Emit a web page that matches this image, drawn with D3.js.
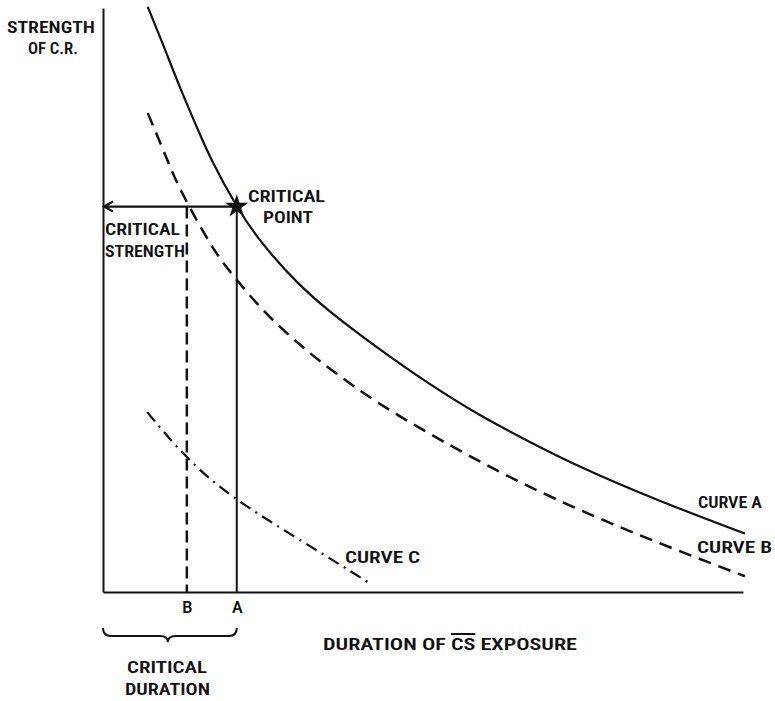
<!DOCTYPE html>
<html>
<head>
<meta charset="utf-8">
<script src="https://cdn.jsdelivr.net/npm/d3@7"></script>
<style>
body { margin:0; background:#fff; }
text { font-family: "Liberation Sans Narrow", "Roboto Condensed", Roboto, "DejaVu Sans Condensed", sans-serif; font-weight: 600; fill:#111; }
</style>
</head>
<body>
<svg id="chart" width="775" height="701"></svg>
<script>
// curve points: [duration, strength] in 0..100 units
var curveA = [[7.0,100.2],[9.4,93.7],[12.0,86.5],[14.7,79.5],[17.2,73.5],[20.9,66.1],[25.0,59.6],[30.3,53.1],[35.5,48.0],[40.6,43.7],[45.9,39.5],[51.1,35.6],[58.9,30.3],[66.7,25.7],[74.5,21.5],[86.6,15.8],[100.3,10.0]];
var curveB = [[7.0,82.0],[9.7,74.9],[12.3,68.5],[16.7,59.8],[20.2,54.4],[25.0,48.3],[30.3,42.8],[35.5,38.2],[43.3,32.2],[53.8,25.4],[66.7,18.0],[82.8,10.2],[100.3,2.7]];
var curveC = [[6.9,30.8],[13.1,23.1],[20.6,16.1],[30.8,8.9],[41.4,1.7]];

var critDur = [13.1, 20.9];   // B, A
var critLabels = ['B', 'A'];
var critStrength = 66.0;

var svg = d3.select('#chart');

var x = d3.scaleLinear().domain([0,100]).range([103,743]);
var y = d3.scaleLinear().domain([0,100]).range([592,8]);

var line = d3.line()
    .x(function(d){ return x(d[0]); })
    .y(function(d){ return y(d[1]); })
    .curve(d3.curveNatural);

// axes
var xAxis = svg.append('g')
    .attr('transform','translate(0,'+y(0)+')')
    .call(d3.axisBottom(x).tickValues(critDur).tickSize(0).tickSizeOuter(0)
        .tickFormat(function(d,i){ return critLabels[i]; }));
xAxis.select('.domain').attr('stroke','#111').attr('stroke-width',2);
xAxis.selectAll('text').attr('font-size',16).attr('dy',0).attr('y',21).attr('fill','#111')
    .style('font-family','"Liberation Sans Narrow",Roboto,sans-serif').style('font-weight','600');

var yAxis = svg.append('g')
    .attr('transform','translate('+x(0)+',0)')
    .call(d3.axisLeft(y).tickValues([]).tickSizeOuter(0));
yAxis.select('.domain').attr('stroke','#111').attr('stroke-width',2);

// curves
svg.append('path').datum(curveA).attr('d',line)
    .attr('fill','none').attr('stroke','#111').attr('stroke-width',2.2);
svg.append('path').datum(curveB).attr('d',line)
    .attr('fill','none').attr('stroke','#111').attr('stroke-width',2.5).attr('stroke-dasharray','13,8');
svg.append('path').datum(curveC).attr('d',line)
    .attr('fill','none').attr('stroke','#111').attr('stroke-width',2.2).attr('stroke-dasharray','12,6,2,6');

// critical lines
svg.append('line')
    .attr('x1',x(critDur[1])).attr('x2',x(critDur[1]))
    .attr('y1',y(critStrength)).attr('y2',y(0))
    .attr('stroke','#111').attr('stroke-width',2);
svg.append('line')
    .attr('x1',x(critDur[0])).attr('x2',x(critDur[0]))
    .attr('y1',y(critStrength)).attr('y2',y(0))
    .attr('stroke','#111').attr('stroke-width',2.5).attr('stroke-dasharray','12,6');
svg.append('line')
    .attr('x1',x(0)).attr('x2',x(critDur[1]))
    .attr('y1',y(critStrength)).attr('y2',y(critStrength))
    .attr('stroke','#111').attr('stroke-width',2.2);
// arrow head
var ax = x(0), ay = y(critStrength);
svg.append('path')
    .attr('d','M'+(ax+10)+','+(ay-5)+'L'+(ax+1)+','+ay+'L'+(ax+10)+','+(ay+5))
    .attr('fill','none').attr('stroke','#111').attr('stroke-width',2.2);

// star at critical point
svg.append('path')
    .attr('transform','translate('+x(critDur[1])+','+y(critStrength)+')')
    .attr('d',d3.symbol().type(d3.symbolStar).size(170)())
    .attr('fill','#111');

// brace under critical duration
var bx0 = x(0), bx1 = x(critDur[1]), bm = (bx0+bx1)/2 - 2, by = y(0)+44;
svg.append('path')
    .attr('d','M'+bx0+','+(by-8)+'Q'+bx0+','+by+' '+(bx0+8)+','+by+
        'L'+(bm-8)+','+by+'Q'+bm+','+by+' '+bm+','+(by+6)+
        'Q'+bm+','+by+' '+(bm+8)+','+by+
        'L'+(bx1-8)+','+by+'Q'+bx1+','+by+' '+bx1+','+(by-8))
    .attr('fill','none').attr('stroke','#111').attr('stroke-width',2);

// labels
function label(t, x0, base, w, fs, anchor) {
    return svg.append('text').attr('x',x0).attr('y',base).attr('font-size',fs)
        .attr('text-anchor',anchor || 'start')
        .attr('textLength',w).attr('lengthAdjust','spacingAndGlyphs').text(t);
}
label('STRENGTH', 7, 33, 88, 16);
label('OF C.R.', 28, 54, 50, 17);
label('CRITICAL', 248, 202, 77, 17);
label('POINT', 263, 223, 50, 17);
label('CRITICAL', 105, 235, 75, 17);
label('STRENGTH', 105, 257, 80, 17);
label('CRITICAL', 127, 673, 80, 17);
label('DURATION', 125, 695, 85, 17);
label('CURVE A', 698, 508, 64, 17);
label('CURVE B', 697, 553, 75, 17);
label('CURVE C', 345, 563, 75, 17);
var dur = label('DURATION OF CS EXPOSURE', 323, 650, 254, 17);

// overline over CS
var n = dur.node();
var c0 = n.getExtentOfChar(12), c1 = n.getExtentOfChar(13);
svg.append('line')
    .attr('x1',c0.x).attr('x2',c1.x+c1.width)
    .attr('y1',634).attr('y2',634)
    .attr('stroke','#111').attr('stroke-width',2);
</script>
</body>
</html>
